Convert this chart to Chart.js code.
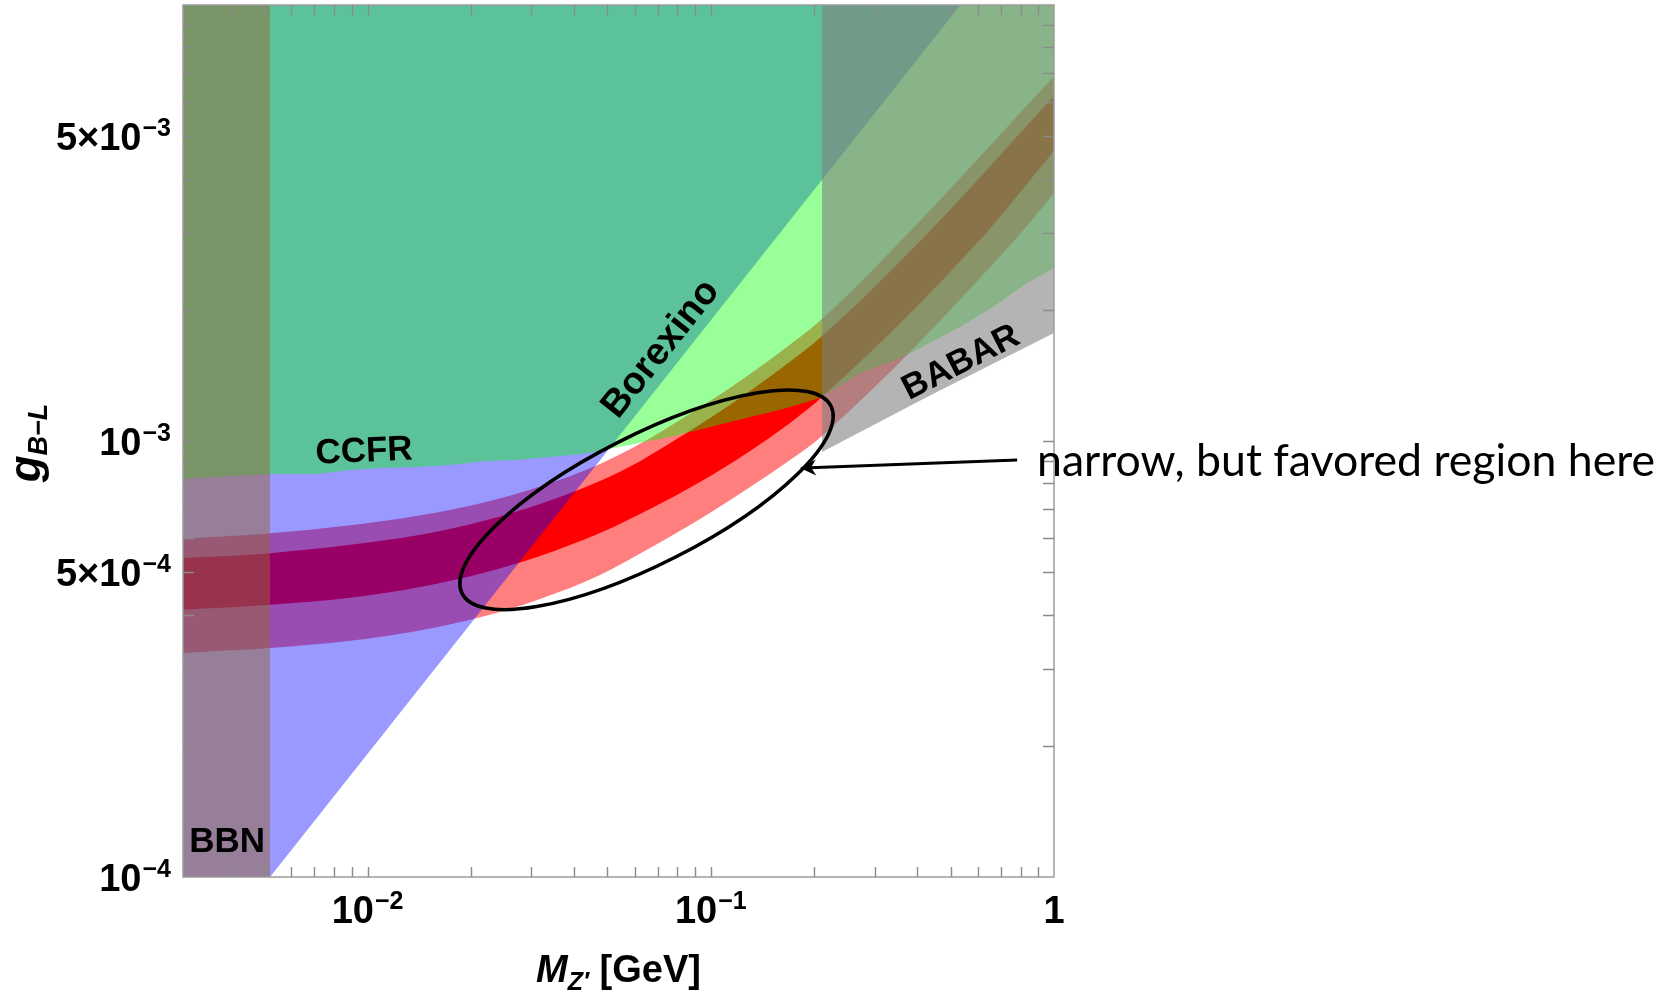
<!DOCTYPE html>
<html>
<head>
<meta charset="utf-8">
<title>g(B-L) vs M(Z') constraints</title>
<script src="https://cdn.jsdelivr.net/npm/chart.js@4.4.1/dist/chart.umd.min.js"></script>
<style>
  html, body { margin: 0; padding: 0; background: #ffffff; }
  #wrap { width: 1677px; height: 992px; }
</style>
</head>
<body>
<div id="wrap"><canvas id="chart" width="1677" height="992"></canvas></div>
<script>
// ---- axis ranges ----
const mMin = 0.0029, mMax = 1;
const gMin = 1e-4, gMax = 1e-2;

// ---- tick positions and labels ----
const mTicks = [0.004, 0.005, 0.006, 0.007, 0.008, 0.009,
                0.01, 0.02, 0.03, 0.04, 0.05, 0.06, 0.07, 0.08, 0.09,
                0.1, 0.2, 0.3, 0.4, 0.5, 0.6, 0.7, 0.8, 0.9];
const gTicks = [2e-4, 3e-4, 4e-4, 5e-4, 6e-4, 7e-4, 8e-4, 9e-4,
                1e-3, 2e-3, 3e-3, 4e-3, 5e-3, 6e-3, 7e-3, 8e-3, 9e-3];
const mLabelValues = [0.01, 0.1, 1];
const mLabelBase = ['10', '10', '1'];
const mLabelExp = ['\u22122', '\u22121', ''];
const gLabelValues = [1e-4, 5e-4, 1e-3, 5e-3];
const gLabelBase = ['10', '5\u00d710', '10', '5\u00d710'];
const gLabelExp = ['\u22124', '\u22124', '\u22123', '\u22123'];

// ---- BBN: excluded below this mass ----
const bbnEdge = 0.0052;

// ---- Borexino boundary (excluded above / left) ----
const borexinoM = [0.0052, 0.534];
const borexinoG = [1.0e-4, 1.0e-2];

// ---- CCFR boundary (excluded above) ----
const ccfrM = [0.0029, 0.00362, 0.0052, 0.00708, 0.00889, 0.0111, 0.01385, 0.01739, 0.02171,
               0.02708, 0.03402, 0.04245, 0.04855, 0.0622, 0.0761, 0.0995, 0.1302, 0.1624,
               0.2082, 0.2722, 0.3633, 0.5324, 0.6645, 0.8349, 1.0];
const ccfrG = [8.18e-4, 8.27e-4, 8.40e-4, 8.40e-4, 8.58e-4, 8.67e-4, 8.72e-4, 8.81e-4, 8.99e-4,
               9.04e-4, 9.19e-4, 9.34e-4, 9.54e-4, 9.90e-4, 1.021e-3, 1.077e-3, 1.135e-3, 1.184e-3,
               1.255e-3, 1.432e-3, 1.559e-3, 1.826e-3, 2.029e-3, 2.304e-3, 2.492e-3];

// ---- BABAR boundary (excluded above) ----
const babarM = [0.211, 0.4267, 1.0];
const babarG = [9.44e-4, 1.261e-3, 1.769e-3];

// ---- favoured band, outer (2 sigma) edges ----
const outerTopM = [0.0029, 0.0052, 0.00889, 0.01385, 0.02171, 0.03181, 0.04757, 0.06223,
                   0.0787, 0.09953, 0.1259, 0.1591, 0.211, 0.3559, 1.0];
const outerTopG = [5.96e-4, 6.14e-4, 6.41e-4, 6.73e-4, 7.22e-4, 7.86e-4, 8.86e-4, 9.85e-4,
                   1.100e-3, 1.236e-3, 1.399e-3, 1.598e-3, 1.905e-3, 2.863e-3, 6.864e-3];
const outerBotM = [0.0029, 0.0052, 0.00889, 0.01422, 0.02171, 0.03181, 0.04757, 0.06653,
                   0.09307, 0.1302, 0.1702, 0.211, 0.7598, 1.0];
const outerBotG = [3.265e-4, 3.35e-4, 3.48e-4, 3.676e-4, 3.956e-4, 4.342e-4, 4.93e-4, 5.683e-4,
                   6.625e-4, 7.84e-4, 9.04e-4, 1.027e-3, 2.860e-3, 3.705e-3];

// ---- favoured band, inner (1 sigma) edges ----
const innerTopM = [0.0029, 0.0052, 0.00889, 0.01385, 0.02171, 0.03181, 0.04757, 0.06223,
                   0.0787, 0.09953, 0.1259, 0.1591, 0.211, 0.4127, 1.0];
const innerTopG = [5.39e-4, 5.53e-4, 5.78e-4, 6.07e-4, 6.555e-4, 7.168e-4, 8.095e-4, 8.99e-4,
                   1.005e-3, 1.129e-3, 1.278e-3, 1.460e-3, 1.740e-3, 2.905e-3, 6.184e-3];
const innerBotM = [0.0029, 0.0052, 0.00889, 0.01422, 0.02171, 0.03181, 0.04757, 0.06653,
                   0.09307, 0.1302, 0.1702, 0.211, 0.6008, 1.0];
const innerBotG = [4.10e-4, 4.21e-4, 4.37e-4, 4.625e-4, 4.98e-4, 5.45e-4, 6.15e-4, 6.98e-4,
                   8.05e-4, 9.49e-4, 1.100e-3, 1.261e-3, 2.860e-3, 4.625e-3];

// ---- annotations (data coordinates) ----
const regionLabels = ['CCFR', 'Borexino', 'BABAR', 'BBN'];
const regionLabelM = [0.00977, 0.0716, 0.536, 0.0039];
const regionLabelG = [9.44e-4, 1.625e-3, 1.51e-3, 1.203e-4];
const regionLabelAngle = [-2.5, -51.6, -27, 0];
const regionLabelSize = [35, 38, 35, 35];
const ellipseCenter = { m: 0.065, g: 7.33e-4 };
const ellipseTip = { m: 0.224, g: 1.203e-3 };
const arrowTail = { m: 0.781, g: 9.04e-4 };
const arrowHead = { m: 0.182, g: 8.67e-4 };
const noteText = 'narrow, but favored region here';

const pts = (ms, gs) => ms.map((m, i) => ({ x: m, y: gs[i] }));

function area(label, data, fill, color, order, smooth) {
  return {
    label, data, fill, order,
    showLine: true,
    backgroundColor: color,
    borderColor: 'rgba(0,0,0,0)',
    borderWidth: 0,
    pointRadius: 0,
    pointHoverRadius: 0,
    cubicInterpolationMode: smooth ? 'monotone' : 'default',
    tension: smooth ? 0.4 : 0
  };
}

// index 6 and 7 are the lower edges the bands fill down to
const datasets = [
  area('BABAR', pts(babarM, babarG), 'end', 'rgba(125,125,125,0.58)', 1, false),
  area('BBN', [{ x: mMin, y: gMax }, { x: bbnEdge, y: gMax }], 'start', 'rgba(149,101,51,0.5)', 2, false),
  area('CCFR', pts(ccfrM, ccfrG), 'end', 'rgba(0,255,0,0.4)', 3, false),
  area('Borexino', [{ x: mMin, y: gMin }].concat(pts(borexinoM, borexinoG), [{ x: mMin, y: gMax }]),
       'shape', 'rgba(0,0,255,0.4)', 4, false),
  area('favoured 1 sigma', pts(innerTopM, innerTopG), { target: 6 }, 'rgb(255,0,0)', 5, true),
  area('favoured 2 sigma', pts(outerTopM, outerTopG), { target: 7 }, 'rgba(255,0,0,0.5)', 6, true),
  area('1 sigma lower edge', pts(innerBotM, innerBotG), false, 'rgba(0,0,0,0)', 7, true),
  area('2 sigma lower edge', pts(outerBotM, outerBotG), false, 'rgba(0,0,0,0)', 8, true)
];

const SANS = '"Liberation Sans", Arial, sans-serif';

function powLabel(ctx, base, exp, px, py, align) {
  ctx.font = 'bold 38px ' + SANS;
  const w1 = ctx.measureText(base).width;
  ctx.font = 'bold 25px ' + SANS;
  const w2 = exp ? ctx.measureText(exp).width + 1 : 0;
  const x0 = align === 'right' ? px - w1 - w2 : px - (w1 + w2) / 2;
  ctx.textAlign = 'left';
  ctx.textBaseline = 'alphabetic';
  ctx.font = 'bold 38px ' + SANS;
  ctx.fillText(base, x0, py);
  if (exp) {
    ctx.font = 'bold 25px ' + SANS;
    ctx.fillText(exp, x0 + w1 + 1, py - 14);
  }
}

const overlay = {
  id: 'overlay',
  afterDatasetsDraw(chart) {
    const { ctx, chartArea: a } = chart;
    const xs = chart.scales.x, ys = chart.scales.y;
    const X = v => xs.getPixelForValue(v), Y = v => ys.getPixelForValue(v);
    ctx.save();

    // frame and inward ticks
    ctx.strokeStyle = '#9c9c9c';
    ctx.lineWidth = 1.5;
    ctx.strokeRect(a.left, a.top, a.right - a.left, a.bottom - a.top);
    ctx.strokeStyle = '#8a8a8a';
    ctx.lineWidth = 1.4;
    ctx.beginPath();
    mTicks.forEach(v => {
      const p = Math.round(X(v)) + 0.5;
      ctx.moveTo(p, a.bottom); ctx.lineTo(p, a.bottom - 10);
      ctx.moveTo(p, a.top); ctx.lineTo(p, a.top + 10);
    });
    gTicks.forEach(v => {
      const p = Math.round(Y(v)) + 0.5;
      ctx.moveTo(a.left, p); ctx.lineTo(a.left + 11, p);
      ctx.moveTo(a.right, p); ctx.lineTo(a.right - 11, p);
    });
    ctx.stroke();

    // tick labels
    ctx.fillStyle = '#000';
    mLabelValues.forEach((v, i) => powLabel(ctx, mLabelBase[i], mLabelExp[i], X(v), a.bottom + 46, 'center'));
    gLabelValues.forEach((v, i) => powLabel(ctx, gLabelBase[i], gLabelExp[i], a.left - 12, Y(v) + 13.5, 'right'));

    // x title: M_Z' [GeV]
    const parts = [
      { t: 'M', f: 'italic bold 38px ' + SANS, dy: 0 },
      { t: 'Z\u2032', f: 'italic bold 25px ' + SANS, dy: 8 },
      { t: ' [GeV]', f: 'bold 38px ' + SANS, dy: 0 }
    ];
    let tw = 0;
    parts.forEach(p => { ctx.font = p.f; p.w = ctx.measureText(p.t).width; tw += p.w; });
    let cx = (a.left + a.right) / 2 - tw / 2;
    parts.forEach(p => { ctx.font = p.f; ctx.fillText(p.t, cx, 982 + p.dy); cx += p.w; });

    // y title: g_{B-L}
    ctx.save();
    ctx.translate(40, (a.top + a.bottom) / 2 + 2);
    ctx.rotate(-Math.PI / 2);
    const yp = [
      { t: 'g', f: 'italic bold 44px ' + SANS, dy: 0 },
      { t: 'B\u2212L', f: 'italic bold 27px ' + SANS, dy: 7 }
    ];
    tw = 0;
    yp.forEach(p => { ctx.font = p.f; p.w = ctx.measureText(p.t).width; tw += p.w; });
    cx = -tw / 2;
    yp.forEach(p => { ctx.font = p.f; ctx.fillText(p.t, cx, p.dy); cx += p.w; });
    ctx.restore();

    // region labels
    ctx.textAlign = 'center';
    ctx.textBaseline = 'middle';
    regionLabels.forEach((txt, i) => {
      ctx.save();
      ctx.font = 'bold ' + regionLabelSize[i] + 'px ' + SANS;
      ctx.translate(X(regionLabelM[i]), Y(regionLabelG[i]));
      ctx.rotate(regionLabelAngle[i] * Math.PI / 180);
      ctx.fillText(txt, 0, 0);
      ctx.restore();
    });

    // favoured-region ellipse
    const cxp = X(ellipseCenter.m), cyp = Y(ellipseCenter.g);
    const txp = X(ellipseTip.m), typ = Y(ellipseTip.g);
    const rMaj = Math.hypot(txp - cxp, typ - cyp);
    ctx.beginPath();
    ctx.ellipse(cxp, cyp, rMaj, rMaj * 0.31, Math.atan2(typ - cyp, txp - cxp), 0, 2 * Math.PI);
    ctx.strokeStyle = '#000';
    ctx.lineWidth = 3.5;
    ctx.stroke();

    // arrow
    const ax0 = X(arrowTail.m), ay0 = Y(arrowTail.g);
    const ax1 = X(arrowHead.m), ay1 = Y(arrowHead.g);
    const ang = Math.atan2(ay1 - ay0, ax1 - ax0);
    ctx.lineWidth = 3;
    ctx.beginPath();
    ctx.moveTo(ax0, ay0);
    ctx.lineTo(ax1 - 10 * Math.cos(ang), ay1 - 10 * Math.sin(ang));
    ctx.stroke();
    ctx.save();
    ctx.translate(ax1, ay1);
    ctx.rotate(ang);
    ctx.beginPath();
    ctx.moveTo(0, 0);
    ctx.lineTo(-16, -8);
    ctx.lineTo(-11, 0);
    ctx.lineTo(-16, 8);
    ctx.closePath();
    ctx.fillStyle = '#000';
    ctx.fill();
    ctx.restore();

    // note text, sized to its span in the figure
    ctx.textAlign = 'left';
    ctx.textBaseline = 'alphabetic';
    ctx.font = '40px Lato, "Open Sans", sans-serif';
    const size = 40 * 618 / ctx.measureText(noteText).width;
    ctx.font = size.toFixed(1) + 'px Lato, "Open Sans", sans-serif';
    ctx.fillText(noteText, 1037, 476);

    ctx.restore();
  }
};

new Chart(document.getElementById('chart'), {
  type: 'scatter',
  data: { datasets },
  options: {
    responsive: false,
    devicePixelRatio: 1,
    animation: false,
    events: [],
    layout: { padding: { left: 0, top: 5, right: 623, bottom: 0 } },
    plugins: { legend: { display: false }, tooltip: { enabled: false } },
    scales: {
      x: {
        type: 'logarithmic', min: mMin, max: mMax,
        ticks: { display: false }, grid: { display: false }, border: { display: false },
        afterFit: s => { s.height = 115; }
      },
      y: {
        type: 'logarithmic', min: gMin, max: gMax,
        ticks: { display: false }, grid: { display: false }, border: { display: false },
        afterFit: s => { s.width = 183; }
      }
    }
  },
  plugins: [overlay]
});
</script>
</body>
</html>
